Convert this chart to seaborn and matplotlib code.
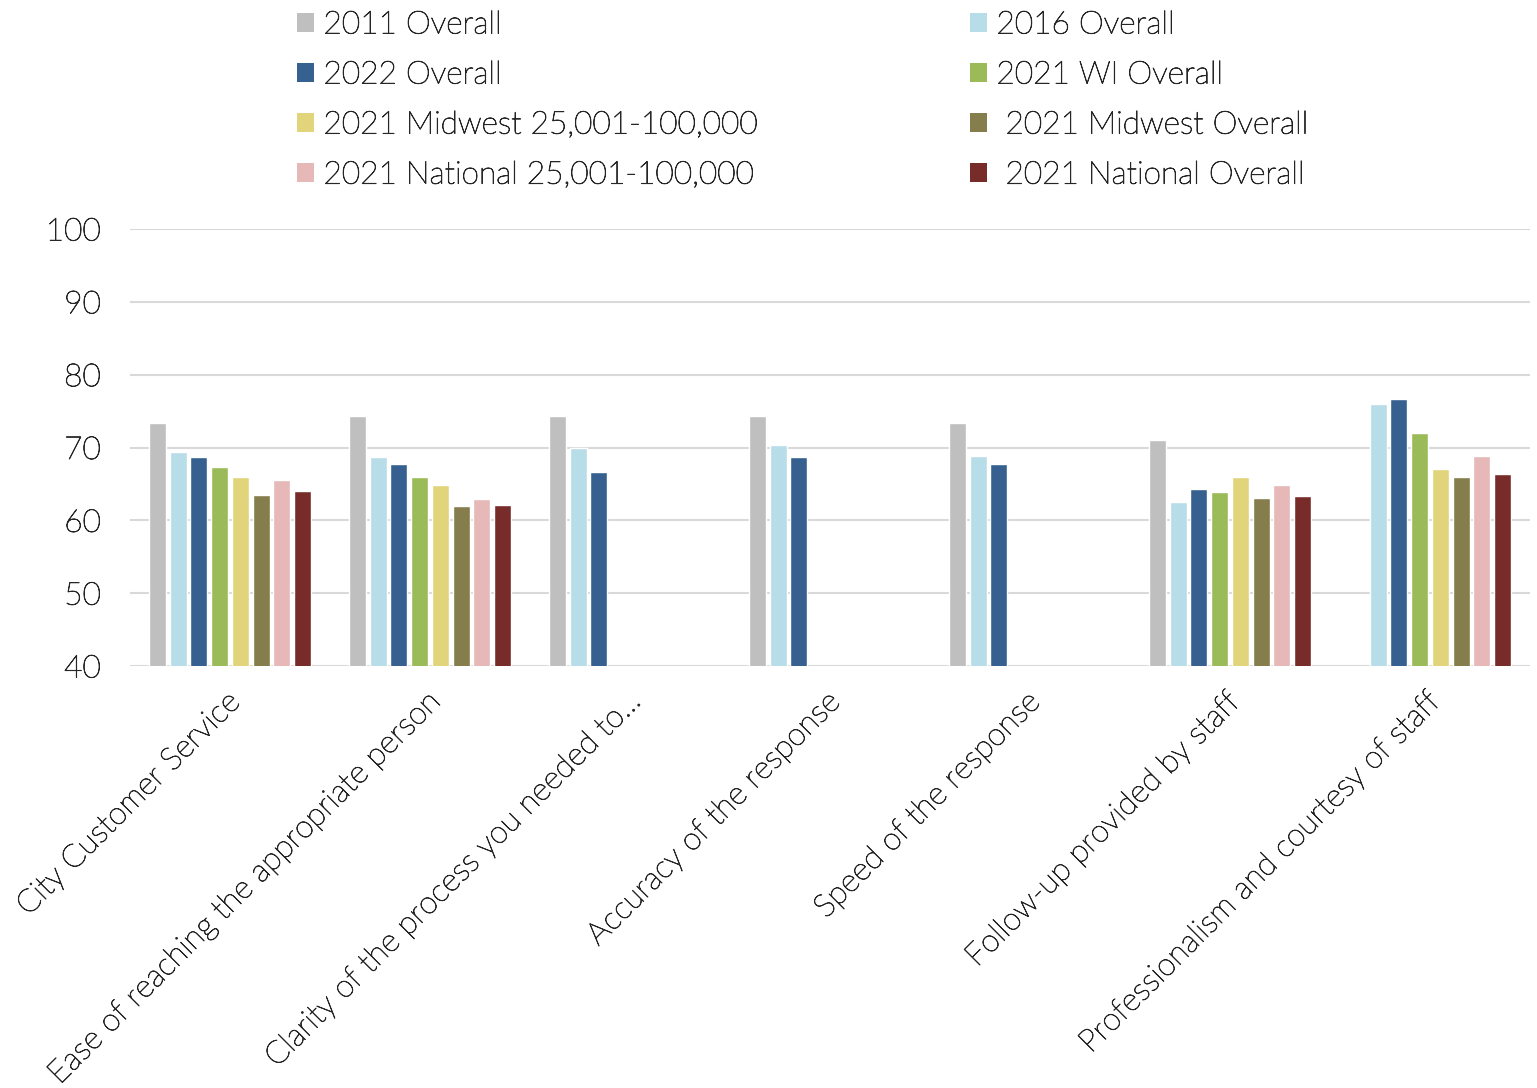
import matplotlib
matplotlib.use("Agg")
import matplotlib.pyplot as plt
import matplotlib.transforms as mtransforms
import matplotlib.patheffects as pe
import seaborn as sns
import pandas as pd
import numpy as np
from matplotlib.patches import Patch

# Survey satisfaction ratings by question and comparison group
categories = [
    "City Customer Service",
    "Ease of reaching the appropriate person",
    "Clarity of the process you needed to...",
    "Accuracy of the response",
    "Speed of the response",
    "Follow-up provided by staff",
    "Professionalism and courtesy of staff",
]
series = [
    "2011 Overall",
    "2016 Overall",
    "2022 Overall",
    "2021 WI Overall",
    "2021 Midwest 25,001-100,000",
    " 2021 Midwest Overall",
    "2021 National 25,001-100,000",
    " 2021 National Overall",
]
overall_2011 = [73.4, 74.3, 74.3, 74.3, 73.3, 71.0, np.nan]
overall_2016 = [69.4, 68.7, 70.0, 70.4, 68.9, 62.5, 76.0]
overall_2022 = [68.7, 67.8, 66.6, 68.7, 67.7, 64.3, 76.6]
wi_2021 = [67.3, 66.0, np.nan, np.nan, np.nan, 63.9, 72.0]
midwest_25k_2021 = [66.0, 64.9, np.nan, np.nan, np.nan, 66.0, 67.0]
midwest_2021 = [63.5, 61.9, np.nan, np.nan, np.nan, 63.0, 66.0]
national_25k_2021 = [65.6, 62.9, np.nan, np.nan, np.nan, 64.9, 68.9]
national_2021 = [64.0, 62.1, np.nan, np.nan, np.nan, 63.4, 66.4]

colors = ["#bfbfbf", "#b7dde8", "#35608f", "#9bbb59",
          "#e2d47a", "#857d4b", "#e6b8b7", "#772c2a"]

values = [overall_2011, overall_2016, overall_2022, wi_2021,
          midwest_25k_2021, midwest_2021, national_25k_2021, national_2021]
rows = []
for s, vals in zip(series, values):
    for c, v in zip(categories, vals):
        rows.append({"Question": c, "Group": s, "Score": v})
df = pd.DataFrame(rows).dropna()

sns.set_theme(style="white")
plt.rcParams["font.family"] = ["Lato", "DejaVu Sans"]
plt.rcParams["font.weight"] = "light"
text_color = "#262626"
fs = 22.8
# slightly heavier strokes for the light face
thicken = [pe.withStroke(linewidth=0.6, foreground=text_color)]

fig = plt.figure(figsize=(15.37, 10.88), dpi=100)
ax = fig.add_axes([130 / 1537, 1 - 666 / 1088, 1400 / 1537, (666 - 229) / 1088])

sns.barplot(data=df, x="Question", y="Score", hue="Group",
            order=categories, hue_order=series, palette=colors,
            errorbar=None, width=0.83, gap=0.17, saturation=1,
            legend=False, ax=ax)

ax.set_ylim(40, 100)
ax.set_xlim(-0.5, len(categories) - 0.5)
ax.set_yticks(range(40, 101, 10))
ax.grid(axis="y", color="#d9d9d9", linewidth=1.5)
ax.set_axisbelow(True)
for sp in ax.spines.values():
    sp.set_visible(False)
ax.set_xlabel("")
ax.set_ylabel("")
ax.tick_params(axis="y", length=0, pad=21, labelsize=fs, labelcolor=text_color)
ax.tick_params(axis="x", length=0, pad=23, labelsize=fs, labelcolor=text_color)
ax.set_xticks(range(len(categories)))
ax.set_xticklabels(categories, rotation=45, ha="right", va="center",
                   rotation_mode="anchor")
shift = mtransforms.ScaledTranslation(5 / 100, 0, fig.dpi_scale_trans)
for lbl in ax.get_xticklabels():
    lbl.set_transform(lbl.get_transform() + shift)
    lbl.set_path_effects(thicken)
for lbl in ax.get_yticklabels():
    lbl.set_path_effects(thicken)

# Two-column legend laid out row by row
handles = [Patch(facecolor=c, edgecolor="none") for c in colors]
left_idx = [0, 2, 4, 6]
right_idx = [1, 3, 5, 7]
for idx, x0 in ((left_idx, 268 / 1537), (right_idx, 941 / 1537)):
    leg = fig.legend([handles[i] for i in idx], [series[i] for i in idx],
                     loc="upper left", bbox_to_anchor=(x0, 1.0 + 18 / 1088),
                     frameon=False, handlelength=0.55, handleheight=0.55,
                     handletextpad=0.3, labelspacing=0.665,
                     labelcolor=text_color, prop={"size": fs, "weight": "light"})
    for t in leg.get_texts():
        t.set_path_effects(thicken)

fig.savefig("out.png", dpi=100)
